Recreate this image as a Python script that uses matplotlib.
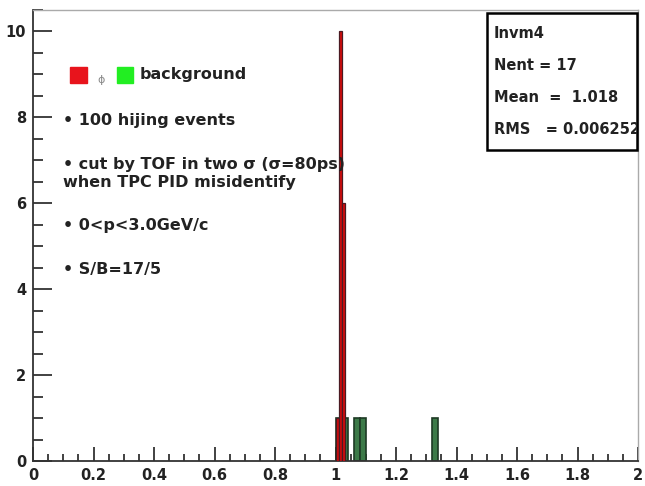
import matplotlib
matplotlib.use("Agg")
import matplotlib.pyplot as plt
from matplotlib.patches import Rectangle
from matplotlib.ticker import MultipleLocator
import numpy as np

# phi signal histogram (bin width 0.01)
sig_edges = [1.00, 1.01, 1.02]
sig_counts = [1, 10, 6]
sig_width = 0.01

# background histogram (bin width 0.02)
bkg_edges = [1.00, 1.02, 1.06, 1.08, 1.32]
bkg_counts = [1, 1, 1, 1, 1]
bkg_width = 0.02

stats_lines = ["Invm4", "Nent = 17", "Mean  =  1.018", "RMS   = 0.006252"]
notes = [
    "\u2022 100 hijing events",
    "\u2022 cut by TOF in two \u03c3 (\u03c3=80ps)\nwhen TPC PID misidentify",
    "\u2022 0<p<3.0GeV/c",
    "\u2022 S/B=17/5",
]
notes_y = [7.93, 6.7, 5.49, 4.47]

plt.rcParams["font.family"] = ["DejaVu Sans"]

fig = plt.figure(figsize=(6.45, 4.86), dpi=100)
ax = fig.add_axes([33 / 645, 25 / 486, 605 / 645, 451 / 486])

# background first, signal drawn on top
ax.bar(bkg_edges, bkg_counts, width=bkg_width, align="edge",
       color="#3c7a48", edgecolor="#1d3a24", linewidth=1.2, zorder=2)
ax.bar(sig_edges, sig_counts, width=sig_width, align="edge",
       color="#d40c0c", edgecolor="#4a1a22", linewidth=0.9, zorder=3)

ax.set_xlim(0, 2)
ax.set_ylim(0, 10.5)
ax.xaxis.set_major_locator(MultipleLocator(0.2))
ax.xaxis.set_minor_locator(MultipleLocator(0.05))
ax.yaxis.set_major_locator(MultipleLocator(2))
ax.yaxis.set_minor_locator(MultipleLocator(0.5))
ax.xaxis.set_major_formatter(plt.FuncFormatter(lambda v, p: f"{v:g}"))

ax.tick_params(axis="x", which="major", direction="in", length=10, width=1.3,
               color="#333333", labelsize=10.5, labelcolor="#222222", pad=5)
ax.tick_params(axis="x", which="minor", direction="in", length=5, width=1.3, color="#333333")
ax.tick_params(axis="y", which="major", direction="in", length=14, width=1.3,
               color="#333333", labelsize=10.5, labelcolor="#222222", pad=5)
ax.tick_params(axis="y", which="minor", direction="in", length=7, width=1.3, color="#333333")
for lab in ax.get_xticklabels() + ax.get_yticklabels():
    lab.set_fontweight("bold")

for s in ["left", "bottom"]:
    ax.spines[s].set_color("#333333")
    ax.spines[s].set_linewidth(1.3)
for s in ["top", "right"]:
    ax.spines[s].set_color("#aaaaaa")
    ax.spines[s].set_linewidth(1.0)

# legend-like annotation
ax.add_patch(Rectangle((0.122, 8.80), 0.056, 0.38, color="#e8141c", zorder=4))
ax.text(0.213, 8.88, "\u03d5", fontsize=8, color="#888888", va="center")
ax.add_patch(Rectangle((0.278, 8.80), 0.053, 0.38, color="#22ee22", zorder=4))
ax.text(0.352, 9.0, "background", fontsize=11.5, fontweight="bold", color="#222222", va="center")

for txt, y in zip(notes, notes_y):
    ax.text(0.1, y, txt, fontsize=11.5, fontweight="bold", color="#222222",
            va="center", linespacing=1.25)

# stats box, text clipped at its border
box = Rectangle((487 / 645, 1 - 150 / 486), 150 / 645, 137 / 486,
                transform=fig.transFigure, facecolor="white",
                edgecolor="black", linewidth=1.8, zorder=5)
fig.patches.append(box)
for i, line in enumerate(stats_lines):
    t = fig.text(494 / 645, 1 - (33 + i * 32) / 486, line, fontsize=10.5,
                 fontweight="bold", color="#222222", va="center", zorder=6)
    t.set_clip_path(box)

fig.savefig("out.png", dpi=100)
